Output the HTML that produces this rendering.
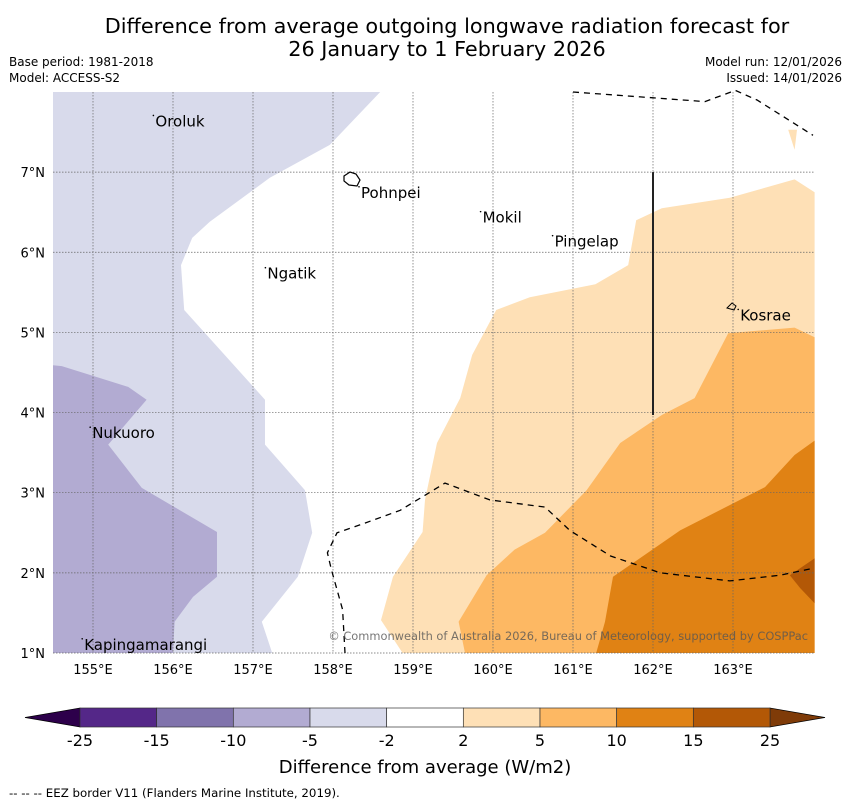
<!DOCTYPE html>
<html><head><meta charset="utf-8"><style>
body{margin:0;background:#fff;font-family:"DejaVu Sans","Liberation Sans",sans-serif;}
svg text{font-family:"DejaVu Sans","Liberation Sans",sans-serif;}
</style></head><body>
<svg id="c" width="850" height="804" xmlns="http://www.w3.org/2000/svg">
<text x="447" y="33" font-size="20.8" text-anchor="middle">Difference from average outgoing longwave radiation forecast for</text>
<text x="447" y="56" font-size="20.8" text-anchor="middle">26 January to 1 February 2026</text>
<text x="9" y="66" font-size="12">Base period: 1981-2018</text>
<text x="9" y="82" font-size="12">Model: ACCESS-S2</text>
<text x="842" y="66" font-size="12" text-anchor="end">Model run: 12/01/2026</text>
<text x="842" y="82" font-size="12" text-anchor="end">Issued: 14/01/2026</text>
<g id="map"></g>
<g id="cb"></g>
<text x="425" y="773" font-size="18" text-anchor="middle">Difference from average (W/m2)</text>
<text x="9" y="797" font-size="11.8">--  --  -- EEZ border V11 (Flanders Marine Institute, 2019).</text>
</svg>
<script>
const lonTicks=[155,156,157,158,159,160,161,162,163];
const latTicks=[1,2,3,4,5,6,7];
const cbLevels=[-25,-15,-10,-5,-2,2,5,10,15,25];
const cbColors=["#542788","#8073ac","#b2abd2","#d8daeb","#ffffff","#fee0b6","#fdb863","#e08214","#b35806"];
const regionLight=[[158.59,8],[157.96,7.34],[157.21,6.93],[156.46,6.38],[156.24,6.18],[156.1,5.84],[156.14,5.28],[157.15,4.16],[157.15,3.6],[157.65,3.03],[157.74,2.5],[157.56,1.95],[157.11,1.39],[157.24,1],[154.5,1],[154.5,8]];
const regionMed=[[154.5,4.59],[154.61,4.58],[155.44,4.32],[155.67,4.16],[155.19,3.6],[155.61,3.06],[156.55,2.51],[156.55,1.95],[156.25,1.7],[156.02,1.39],[156.0,1],[154.5,1]];
const regionO1=[[158.87,1],[158.6,1.41],[158.75,1.95],[159.12,2.51],[159.15,2.91],[159.3,3.62],[159.59,4.18],[159.74,4.72],[160.04,5.28],[160.46,5.44],[161.28,5.6],[161.69,5.84],[161.79,6.4],[162.11,6.55],[162.96,6.68],[163.77,6.91],[164.02,6.75],[164.02,1]];
const regionO1b=[[163.69,7.53],[163.8,7.53],[163.77,7.28]];
const regionO2=[[159.65,1],[159.57,1.39],[159.92,1.97],[160.27,2.29],[160.65,2.5],[161.17,3.03],[161.59,3.62],[162.11,3.97],[162.52,4.18],[162.94,4.99],[163.77,5.06],[164.02,4.94],[164.02,1]];
const regionO3=[[161.29,1],[161.4,1.39],[161.5,1.95],[162.34,2.53],[163.4,3.07],[163.77,3.47],[164.02,3.65],[164.02,1]];
const regionO4=[[163.71,1.97],[164.02,2.18],[164.02,1.62],[163.84,1.81]];
const eezSouth=[[158.15,1],[158.12,1.54],[157.98,2.04],[157.93,2.25],[158.05,2.5],[158.34,2.6],[158.84,2.78],[159.4,3.12],[159.96,2.91],[160.65,2.82],[160.96,2.53],[161.47,2.21],[162.09,2],[162.96,1.9],[163.59,1.97],[164.02,2.06]];
const eezNorth=[[161.0,8.0],[162.65,7.88],[163.03,8.02],[163.3,7.9],[164.0,7.46]];
const places=[["Oroluk",155.78,7.57],["Pohnpei",158.35,6.68],["Mokil",159.87,6.37],["Pingelap",160.77,6.07],["Ngatik",157.18,5.67],["Kosrae",163.09,5.15],["Nukuoro",154.99,3.68],["Kapingamarangi",154.89,1.04]];
const NS="http://www.w3.org/2000/svg";
const X=l=>53+(l-154.5)*80, Y=a=>92+(8-a)*80.14;
const map=document.getElementById('map');
function mk(t,at,p){const e=document.createElementNS(NS,t);for(const k in at)e.setAttribute(k,at[k]);(p||map).appendChild(e);return e;}
const pts=a=>a.map(p=>X(p[0]).toFixed(1)+","+Y(p[1]).toFixed(1)).join(" ");
[[regionLight,cbColors[3],'region-minus5-minus2'],[regionMed,cbColors[2],'region-minus10-minus5'],[regionO1,cbColors[5],'region-2-5'],[regionO1b,cbColors[5],'region-2-5-north'],[regionO2,cbColors[6],'region-5-10'],[regionO3,cbColors[7],'region-10-15'],[regionO4,cbColors[8],'region-15-25']].forEach(r=>{
 const e=mk('polygon',{points:pts(r[0]),fill:r[1]});
 
 
});
lonTicks.forEach(l=>{
 const e=mk('line',{x1:X(l),x2:X(l),y1:92,y2:653,stroke:'#666','stroke-width':0.7,'stroke-dasharray':'1.5,1.5'});
 
 
 const t=mk('text',{x:X(l),y:674,'font-size':13,'text-anchor':'middle'});t.textContent=l+"°E";
 
 
});
latTicks.forEach(a=>{
 const e=mk('line',{x1:53,x2:815,y1:Y(a),y2:Y(a),stroke:'#666','stroke-width':0.7,'stroke-dasharray':'1.5,1.5'});
 
 
 const t=mk('text',{x:45,y:Y(a)+5,'font-size':13,'text-anchor':'end'});t.textContent=a+"°N";
 
 
});
[eezSouth,eezNorth].forEach(s=>{
 const e=mk('polyline',{points:pts(s),fill:'none',stroke:'#000','stroke-width':1.3,'stroke-dasharray':'6,5'});
 
 
});
const sl=mk('line',{x1:X(162),x2:X(162),y1:Y(7),y2:Y(3.97),stroke:'#222','stroke-width':2});


const ip=mk('path',{d:'M344,176 l6,-4 6,2 4,6 -3,6 -8,-1 -5,-4z',fill:'none',stroke:'#000','stroke-width':1.2});


const ik=mk('path',{d:'M727,308 l5,-5 4,3 -2,4z',fill:'none',stroke:'#000','stroke-width':1});


places.forEach(p=>{
 const d=mk('circle',{cx:X(p[1])-2,cy:Y(p[2])-11,r:0.8,fill:'#000'});
 
 
 const t=mk('text',{x:X(p[1]),y:Y(p[2]),'font-size':15});t.textContent=p[0];
 
 
});
const cr=mk('text',{x:808,y:640,'font-size':11.4,'text-anchor':'end',fill:'#555','fill-opacity':0.8});cr.textContent="© Commonwealth of Australia 2026, Bureau of Meteorology, supported by COSPPac";


const cb=document.getElementById('cb');
const x0=80,x1=770,bw=(x1-x0)/cbColors.length,y0=708,y1=727;
const tl=mk('polygon',{points:`25,717.5 ${x0},${y0} ${x0},${y1}`,fill:'#2d004b',stroke:'#000','stroke-width':0.7},cb);


const tr=mk('polygon',{points:`825,717.5 ${x1},${y0} ${x1},${y1}`,fill:'#7f3b08',stroke:'#000','stroke-width':0.7},cb);


cbColors.forEach((c,i)=>{
 const r=mk('rect',{x:x0+i*bw,y:y0,width:bw,height:y1-y0,fill:c,stroke:'#333','stroke-width':0.7},cb);
 
 
});
cbLevels.forEach((v,i)=>{
 const t=mk('text',{x:x0+i*bw,y:746,'font-size':16,'text-anchor':'middle'},cb);t.textContent=v;
 
 
});
</script>
</body></html>
